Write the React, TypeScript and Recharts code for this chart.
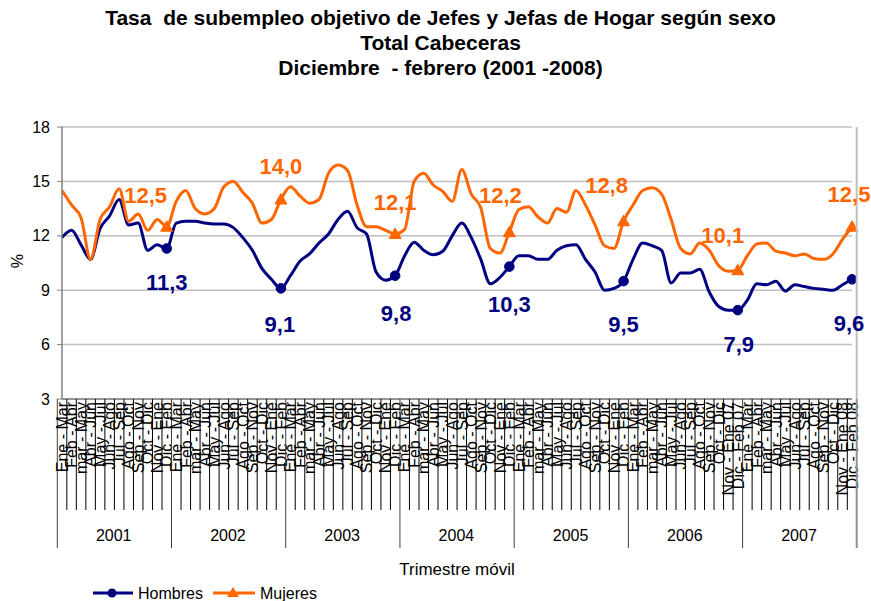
import React from 'react';
import { LineChart, Line, XAxis, YAxis, CartesianGrid, LabelList, Legend } from 'recharts';

// ---------- data ----------
const YEARS = ['2001', '2002', '2003', '2004', '2005', '2006', '2007'];
const PERIODS = ['Ene - Mar', 'Feb - Abr', 'mar - May', 'Abr - Jun', 'May - Jul', 'Jun - Ago', 'Jul - Sep', 'Ago - Oct', 'Sep - Nov', 'Oct - Dic', 'Nov - Ene', 'Dic - Feb'];
const YEAR_END_SUFFIX: Record<string, string> = { '2006': ' 07', '2007': ' 08' };

const HOMBRES = [
  11.9, 12.3, 11.5, 10.7, 12.4, 13.1, 14.0, 12.6, 12.7, 11.2, 11.5, 11.3,
  12.7, 12.8, 12.8, 12.7, 12.65, 12.65, 12.45, 11.9, 11.2, 10.2, 9.6, 9.1,
  9.8, 10.6, 11.0, 11.6, 12.1, 12.9, 13.35, 12.45, 12.1, 10.0, 9.55, 9.8,
  10.9, 11.65, 11.2, 10.95, 11.15, 12.0, 12.7, 11.9, 10.7, 9.35, 9.7, 10.3,
  10.9, 10.9, 10.7, 10.7, 11.2, 11.45, 11.5, 10.7, 10.0, 9.0, 9.1, 9.5,
  10.7, 11.6, 11.45, 11.2, 9.4, 9.95, 9.95, 10.15, 8.9, 8.1, 7.9, 7.9,
  8.45, 9.35, 9.3, 9.5, 8.95, 9.3, 9.2, 9.1, 9.05, 9.0, 9.3, 9.6,
];

const MUJERES = [
  14.5, 13.7, 13.0, 10.7, 12.9, 13.6, 14.6, 12.8, 13.2, 12.3, 12.9, 12.5,
  13.9, 14.5, 13.5, 13.2, 13.5, 14.7, 15.0, 14.4, 13.8, 12.7, 12.9, 14.0,
  14.7, 14.2, 13.8, 14.0, 15.45, 15.9, 15.6, 13.7, 12.5, 12.5, 12.3, 12.1,
  12.35, 15.0, 15.45, 14.8, 14.45, 13.9, 15.65, 14.3, 13.55, 11.3, 11.05, 12.2,
  13.45, 13.6, 13.05, 12.7, 13.5, 13.3, 14.5, 13.7, 12.6, 11.45, 11.3, 12.8,
  13.7, 14.5, 14.65, 14.3, 12.9, 11.3, 11.0, 11.6, 11.2, 10.35, 10.05, 10.1,
  10.9, 11.55, 11.6, 11.15, 11.05, 10.9, 11.0, 10.75, 10.7, 11.0, 11.8, 12.5,
];

const Y_TICKS = [3, 6, 9, 12, 15, 18];

// ---------- styling constants ----------
const NAVY = '#000080';
const ORANGE = '#FF6600';
const FONT = 'Arial, "Liberation Sans", sans-serif';
const W = 871;
const H = 601;
const MARGIN = { top: 127, right: 19, bottom: 22, left: 22 };
const Y_AXIS_W = 40;
const X_AXIS_H = 180;
const PLOT_W = W - MARGIN.left - MARGIN.right - Y_AXIS_W;
const PLOT_H = H - MARGIN.top - MARGIN.bottom - X_AXIS_H;

// label offsets (text centre relative to the marker), one per year-end marker
const H_LABEL_OFFSETS = [[0, 34], [-1, 36], [1, 37], [0, 37], [0, 43], [1, 34], [-3, 44]];
const M_LABEL_OFFSETS = [[-21, -32], [0, -33], [0, -32], [-9, -37], [-17, -36], [-15, -35], [-3, -33]];

const CATEGORY_LABELS: string[] = [];
YEARS.forEach((y) => {
  PERIODS.forEach((p, j) => {
    const suffix = j >= 10 && YEAR_END_SUFFIX[y] ? YEAR_END_SUFFIX[y] : '';
    CATEGORY_LABELS.push(p + suffix);
  });
});
const N = CATEGORY_LABELS.length;

const data = CATEGORY_LABELS.map((label, i) => ({
  key: i,
  label,
  hombres: HOMBRES[i],
  mujeres: MUJERES[i],
}));

const isMarker = (i: number) => i % 12 === 11;
const fmt = (v: number) => v.toFixed(1).replace('.', ',');

const CategoryTick = (props: any) => {
  const { x, y, index } = props;
  const bw = PLOT_W / N;
  const left = x - bw / 2;
  const yearStart = index % 12 === 0;
  return (
    <g key={`tick-${index}`}>
      <line x1={left} x2={left} y1={y} y2={y + (yearStart ? 149 : 111)} stroke={yearStart ? '#404040' : '#000'} strokeWidth={1} />
      <text
        transform={`translate(${x}, ${y + 3}) rotate(-90)`}
        textAnchor="end"
        dy="0.36em"
        fontSize={16}
        fontFamily={FONT}
        fill="#000"
      >
        {CATEGORY_LABELS[index]}
      </text>
      {yearStart && (
        <text x={left + 6 * bw} y={y + 142} textAnchor="middle" fontSize={16} fontFamily={FONT} fill="#000">
          {YEARS[Math.floor(index / 12)]}
        </text>
      )}
      {index === N - 1 && (
        <>
          <line x1={x + bw / 2} x2={x + bw / 2} y1={y - PLOT_H} y2={y} stroke="#C0C0C0" strokeWidth={2} />
          <line x1={x + bw / 2} x2={x + bw / 2} y1={y} y2={y + 149} stroke="#909090" strokeWidth={2} />
        </>
      )}
    </g>
  );
};

const HombresDot = (props: any) => {
  const { cx, cy, index } = props;
  if (!isMarker(index)) return <g key={`hd-${index}`} />;
  return <circle key={`hd-${index}`} cx={cx} cy={cy} r={4.8} fill={NAVY} stroke={NAVY} />;
};

const MujeresDot = (props: any) => {
  const { cx, cy, index } = props;
  if (!isMarker(index)) return <g key={`md-${index}`} />;
  const s = 6;
  return (
    <polygon
      key={`md-${index}`}
      points={`${cx},${cy - s} ${cx + s},${cy + s * 0.75} ${cx - s},${cy + s * 0.75}`}
      fill={ORANGE}
      stroke={ORANGE}
    />
  );
};

const makeLabel = (offsets: number[][], color: string) => (props: any) => {
  const { x, y, value, index } = props;
  if (!isMarker(index)) return null;
  const k = Math.floor(index / 12);
  const [dx, dy] = offsets[k];
  return (
    <text
      key={`lbl-${color}-${index}`}
      x={x + dx}
      y={y + dy}
      dy="0.36em"
      textAnchor="middle"
      fontSize={22}
      fontWeight="bold"
      fontFamily={FONT}
      fill={color}
    >
      {fmt(value)}
    </text>
  );
};

const renderLegend = () => (
  <svg width={240} height={18} style={{ display: 'block', overflow: 'visible' }}>
    <line x1={3} x2={43} y1={9} y2={9} stroke={NAVY} strokeWidth={3} />
    <circle cx={22} cy={9} r={4.5} fill={NAVY} />
    <text x={48} y={15} fontSize={16} fontFamily={FONT} fill="#000">Hombres</text>
    <line x1={123} x2={165} y1={9} y2={9} stroke={ORANGE} strokeWidth={3} />
    <polygon points="143,3 149,13 137,13" fill={ORANGE} />
    <text x={170} y={15} fontSize={16} fontFamily={FONT} fill="#000">Mujeres</text>
  </svg>
);

export default function App() {
  return (
    <div style={{ position: 'absolute', left: 0, top: 0, width: W, height: H, background: '#fff', fontFamily: FONT }}>
      <div
        style={{
          position: 'absolute',
          top: 5,
          left: 10,
          width: W - 10,
          textAlign: 'center',
          fontWeight: 'bold',
          fontSize: 21,
          lineHeight: '25px',
          whiteSpace: 'pre',
          color: '#000',
          zIndex: 2,
        }}
      >
        <div>Tasa  de subempleo objetivo de Jefes y Jefas de Hogar según sexo</div>
        <div>Total Cabeceras</div>
        <div>Diciembre  - febrero (2001 -2008)</div>
      </div>
      <LineChart width={W} height={H} data={data} margin={MARGIN}>
        <CartesianGrid horizontal vertical={false} stroke="#C0C0C0" strokeWidth={1.5} />
        <XAxis
          dataKey="key"
          type="category"
          interval={0}
          tickSize={0}
          tickMargin={0}
          tickLine={false}
          height={X_AXIS_H}
          axisLine={{ stroke: '#808080', strokeWidth: 1.5 }}
          tick={(p: any) => <CategoryTick {...p} />}
          label={{ value: 'Trimestre móvil', position: 'insideBottom', offset: 4, fontSize: 17, fill: '#000', fontFamily: FONT }}
        />
        <YAxis
          width={Y_AXIS_W}
          domain={[3, 18]}
          ticks={Y_TICKS}
          interval={0}
          tickSize={5}
          tickMargin={7}
          axisLine={{ stroke: '#808080', strokeWidth: 1.5 }}
          tickLine={{ stroke: '#808080' }}
          tick={{ fontSize: 16, fill: '#000', fontFamily: FONT }}
          label={{
            content: (p: any) => {
              const vb = p.viewBox || { x: 22, y: 127, height: 272 };
              const cx = vb.x - 5;
              const cy = vb.y + vb.height / 2 - 2;
              return (
                <text x={cx} y={cy} transform={`rotate(-90 ${cx} ${cy})`} textAnchor="middle" dy="0.36em" fontSize={16} fontFamily={FONT} fill="#000">
                  %
                </text>
              );
            },
          }}
        />
        <Legend
          layout="vertical"
          align="center"
          verticalAlign="middle"
          wrapperStyle={{ top: 584, left: 90, width: 240, height: 18 }}
          content={renderLegend}
        />
        <Line
          type="monotone"
          dataKey="hombres"
          stroke={NAVY}
          strokeWidth={3}
          dot={HombresDot}
          activeDot={false}
          isAnimationActive={false}
        >
          <LabelList dataKey="hombres" content={makeLabel(H_LABEL_OFFSETS, NAVY)} />
        </Line>
        <Line
          type="monotone"
          dataKey="mujeres"
          stroke={ORANGE}
          strokeWidth={3}
          dot={MujeresDot}
          activeDot={false}
          isAnimationActive={false}
        >
          <LabelList dataKey="mujeres" content={makeLabel(M_LABEL_OFFSETS, ORANGE)} />
        </Line>
      </LineChart>
    </div>
  );
}
